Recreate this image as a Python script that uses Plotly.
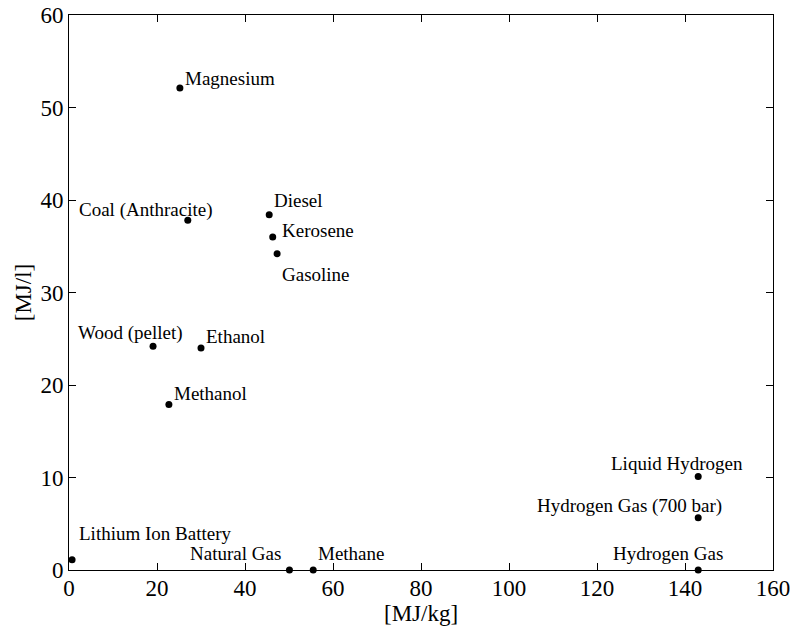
import plotly.graph_objects as go

# Energy density of fuels and storage media
names = ["Magnesium", "Coal (Anthracite)", "Diesel", "Kerosene", "Gasoline",
         "Wood (pellet)", "Ethanol", "Methanol", "Lithium Ion Battery",
         "Natural Gas", "Methane", "Hydrogen Gas", "Hydrogen Gas (700 bar)",
         "Liquid Hydrogen"]
mj_per_kg = [25.2, 27.0, 45.5, 46.3, 47.3, 19.1, 30.0, 22.7, 0.7,
             50.1, 55.5, 143.0, 143.0, 143.0]
mj_per_l = [52.1, 37.8, 38.4, 36.0, 34.2, 24.2, 24.0, 17.9, 1.1,
            0.0, 0.0, 0.0, 5.65, 10.1]

x_ticks = [0, 20, 40, 60, 80, 100, 120, 140, 160]
y_ticks = [0, 10, 20, 30, 40, 50, 60]

# label placement: (anchor, x shift px, y shift px)
label_place = [
    ("left", 3, 10), ("center", -42, 10), ("left", 3, 14), ("left", 7, 7),
    ("left", 3, -21), ("center", -23, 13), ("left", 3, 12), ("left", 3, 11),
    ("left", 5, 26), ("center", -54, 17), ("left", 3, 17), ("center", -30, 17),
    ("right", 26, 12), ("center", -21, 13),
]

FONT = "Liberation Serif, Times New Roman, serif"

fig = go.Figure()
fig.add_trace(go.Scatter(
    x=mj_per_kg, y=mj_per_l, mode="markers",
    marker=dict(color="black", size=7),
    cliponaxis=False, hoverinfo="text", text=names,
))

for name, xv, yv, (anc, dx, dy) in zip(names, mj_per_kg, mj_per_l, label_place):
    fig.add_annotation(
        x=xv, y=yv, xref="x", yref="y", text=name, showarrow=False,
        xanchor=anc, yanchor="middle", xshift=dx, yshift=dy,
        font=dict(family=FONT, size=19, color="black"),
    )

# x-axis title placed just under the tick labels
fig.add_annotation(
    x=0.5, y=-0.079, xref="paper", yref="paper", text="[MJ/kg]",
    showarrow=False, xanchor="center", yanchor="middle", borderpad=0,
    font=dict(family=FONT, size=23, color="black"),
)

axis_common = dict(
    showgrid=False, zeroline=False, showline=True, linecolor="black",
    linewidth=1, mirror="ticks", ticks="inside", ticklen=7, tickwidth=1,
    tickcolor="black", tickfont=dict(family=FONT, size=23, color="black"),
    automargin=False,
)

fig.update_xaxes(range=[0, 160], tickvals=x_ticks, ticklabelstandoff=-3,
                 **axis_common)
fig.update_yaxes(range=[0, 60], tickvals=y_ticks,
                 title=dict(text="[MJ/l]", font=dict(family=FONT, size=23, color="black"), standoff=2),
                 **axis_common)

fig.update_layout(
    width=793, height=628,
    margin=dict(l=69, r=20, t=15, b=58),
    plot_bgcolor="white", paper_bgcolor="white",
    showlegend=False,
)

fig.write_html("out.html")
